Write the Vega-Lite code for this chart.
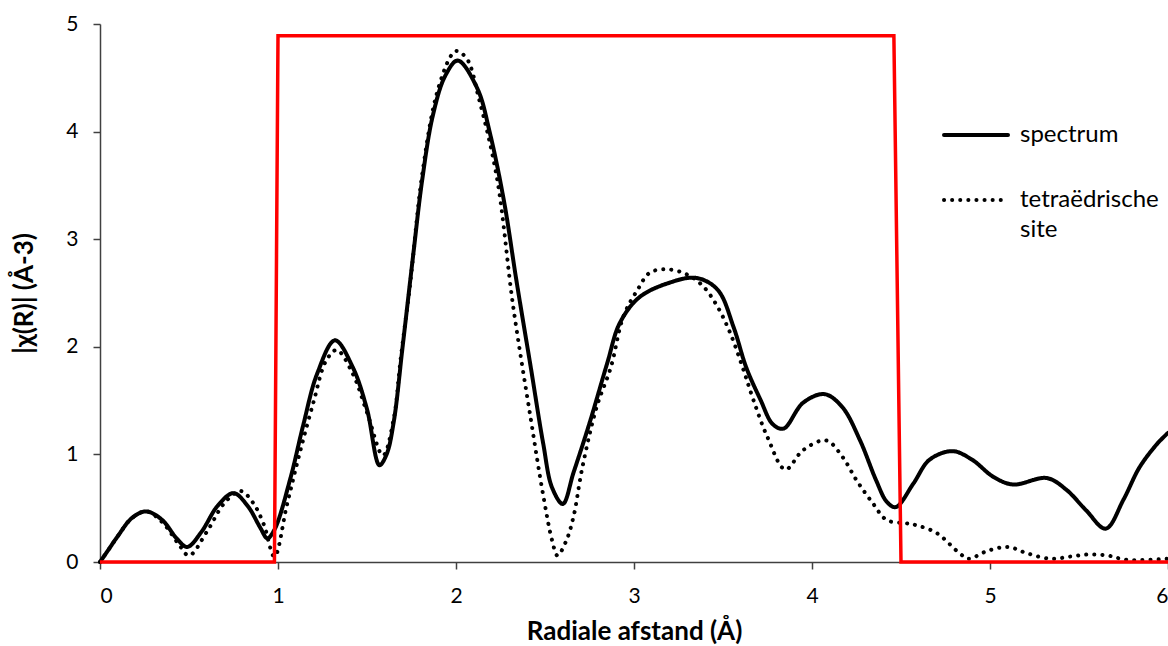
{
  "$schema": "https://vega.github.io/schema/vega-lite/v6.json",
  "width": 1068,
  "height": 538,
  "autosize": {"type": "none"},
  "padding": {"left": 100, "top": 24, "right": 0, "bottom": 84},
  "background": "white",
  "config": {
    "view": {"stroke": null},
    "font": "Lato",
    "axis": {
      "grid": false,
      "domainColor": "#404040",
      "tickColor": "#404040",
      "domainWidth": 1.5,
      "tickWidth": 1.5,
      "tickSize": 7,
      "labelFont": "Lato",
      "labelFontSize": 21,
      "labelColor": "#000000",
      "titleFont": "Lato",
      "titleFontSize": 26,
      "titleFontWeight": "bold",
      "titleColor": "#000000",
      "format": "d"
    }
  },
  "datasets": {
    "window": [
      {"r": 0, "v": 0}, {"r": 0.98, "v": 0}, {"r": 1.0, "v": 4.89}, {"r": 4.46, "v": 4.89}, {"r": 4.5, "v": 0}, {"r": 6, "v": 0}
    ],
    "curves": [
      {"r": 0, "v": 0, "s": "spectrum"}, {"r": 0.05, "v": 0.12, "s": "spectrum"}, {"r": 0.1, "v": 0.24, "s": "spectrum"}, {"r": 0.18, "v": 0.41, "s": "spectrum"}, {"r": 0.26, "v": 0.47, "s": "spectrum"}, {"r": 0.35, "v": 0.39, "s": "spectrum"}, {"r": 0.43, "v": 0.22, "s": "spectrum"}, {"r": 0.49, "v": 0.14, "s": "spectrum"}, {"r": 0.57, "v": 0.28, "s": "spectrum"}, {"r": 0.66, "v": 0.52, "s": "spectrum"}, {"r": 0.75, "v": 0.64, "s": "spectrum"}, {"r": 0.83, "v": 0.52, "s": "spectrum"}, {"r": 0.9, "v": 0.32, "s": "spectrum"}, {"r": 0.94, "v": 0.22, "s": "spectrum"}, {"r": 0.98, "v": 0.3, "s": "spectrum"}, {"r": 1.07, "v": 0.78, "s": "spectrum"}, {"r": 1.14, "v": 1.26, "s": "spectrum"}, {"r": 1.22, "v": 1.75, "s": "spectrum"}, {"r": 1.32, "v": 2.06, "s": "spectrum"}, {"r": 1.42, "v": 1.81, "s": "spectrum"}, {"r": 1.5, "v": 1.42, "s": "spectrum"}, {"r": 1.57, "v": 0.9, "s": "spectrum"}, {"r": 1.61, "v": 1.0, "s": "spectrum"}, {"r": 1.65, "v": 1.3, "s": "spectrum"}, {"r": 1.7, "v": 2.0, "s": "spectrum"}, {"r": 1.76, "v": 2.86, "s": "spectrum"}, {"r": 1.81, "v": 3.55, "s": "spectrum"}, {"r": 1.87, "v": 4.15, "s": "spectrum"}, {"r": 1.94, "v": 4.52, "s": "spectrum"}, {"r": 2.01, "v": 4.66, "s": "spectrum"}, {"r": 2.12, "v": 4.4, "s": "spectrum"}, {"r": 2.19, "v": 3.99, "s": "spectrum"}, {"r": 2.27, "v": 3.35, "s": "spectrum"}, {"r": 2.34, "v": 2.61, "s": "spectrum"}, {"r": 2.42, "v": 1.81, "s": "spectrum"}, {"r": 2.49, "v": 1.1, "s": "spectrum"}, {"r": 2.54, "v": 0.69, "s": "spectrum"}, {"r": 2.6, "v": 0.54, "s": "spectrum"}, {"r": 2.66, "v": 0.83, "s": "spectrum"}, {"r": 2.75, "v": 1.29, "s": "spectrum"}, {"r": 2.85, "v": 1.85, "s": "spectrum"}, {"r": 2.92, "v": 2.22, "s": "spectrum"}, {"r": 3.03, "v": 2.46, "s": "spectrum"}, {"r": 3.19, "v": 2.59, "s": "spectrum"}, {"r": 3.35, "v": 2.64, "s": "spectrum"}, {"r": 3.47, "v": 2.53, "s": "spectrum"}, {"r": 3.56, "v": 2.18, "s": "spectrum"}, {"r": 3.63, "v": 1.81, "s": "spectrum"}, {"r": 3.71, "v": 1.51, "s": "spectrum"}, {"r": 3.78, "v": 1.28, "s": "spectrum"}, {"r": 3.84, "v": 1.24, "s": "spectrum"}, {"r": 3.95, "v": 1.48, "s": "spectrum"}, {"r": 4.07, "v": 1.56, "s": "spectrum"}, {"r": 4.17, "v": 1.44, "s": "spectrum"}, {"r": 4.27, "v": 1.13, "s": "spectrum"}, {"r": 4.36, "v": 0.76, "s": "spectrum"}, {"r": 4.42, "v": 0.56, "s": "spectrum"}, {"r": 4.47, "v": 0.51, "s": "spectrum"}, {"r": 4.57, "v": 0.73, "s": "spectrum"}, {"r": 4.66, "v": 0.95, "s": "spectrum"}, {"r": 4.79, "v": 1.03, "s": "spectrum"}, {"r": 4.9, "v": 0.95, "s": "spectrum"}, {"r": 5.02, "v": 0.79, "s": "spectrum"}, {"r": 5.13, "v": 0.72, "s": "spectrum"}, {"r": 5.32, "v": 0.78, "s": "spectrum"}, {"r": 5.43, "v": 0.67, "s": "spectrum"}, {"r": 5.54, "v": 0.48, "s": "spectrum"}, {"r": 5.65, "v": 0.31, "s": "spectrum"}, {"r": 5.75, "v": 0.58, "s": "spectrum"}, {"r": 5.84, "v": 0.88, "s": "spectrum"}, {"r": 5.94, "v": 1.1, "s": "spectrum"}, {"r": 6.0, "v": 1.2, "s": "spectrum"},
      {"r": 0, "v": 0, "s": "tetraëdrische site"}, {"r": 0.05, "v": 0.12, "s": "tetraëdrische site"}, {"r": 0.1, "v": 0.24, "s": "tetraëdrische site"}, {"r": 0.18, "v": 0.41, "s": "tetraëdrische site"}, {"r": 0.26, "v": 0.47, "s": "tetraëdrische site"}, {"r": 0.35, "v": 0.37, "s": "tetraëdrische site"}, {"r": 0.44, "v": 0.17, "s": "tetraëdrische site"}, {"r": 0.5, "v": 0.06, "s": "tetraëdrische site"}, {"r": 0.6, "v": 0.28, "s": "tetraëdrische site"}, {"r": 0.7, "v": 0.55, "s": "tetraëdrische site"}, {"r": 0.79, "v": 0.66, "s": "tetraëdrische site"}, {"r": 0.86, "v": 0.55, "s": "tetraëdrische site"}, {"r": 0.92, "v": 0.35, "s": "tetraëdrische site"}, {"r": 0.98, "v": 0.05, "s": "tetraëdrische site"}, {"r": 1.05, "v": 0.53, "s": "tetraëdrische site"}, {"r": 1.12, "v": 1.0, "s": "tetraëdrische site"}, {"r": 1.2, "v": 1.49, "s": "tetraëdrische site"}, {"r": 1.27, "v": 1.87, "s": "tetraëdrische site"}, {"r": 1.33, "v": 1.97, "s": "tetraëdrische site"}, {"r": 1.42, "v": 1.75, "s": "tetraëdrische site"}, {"r": 1.5, "v": 1.39, "s": "tetraëdrische site"}, {"r": 1.59, "v": 0.99, "s": "tetraëdrische site"}, {"r": 1.65, "v": 1.33, "s": "tetraëdrische site"}, {"r": 1.69, "v": 1.9, "s": "tetraëdrische site"}, {"r": 1.74, "v": 2.55, "s": "tetraëdrische site"}, {"r": 1.81, "v": 3.6, "s": "tetraëdrische site"}, {"r": 1.89, "v": 4.34, "s": "tetraëdrische site"}, {"r": 1.97, "v": 4.7, "s": "tetraëdrische site"}, {"r": 2.0, "v": 4.75, "s": "tetraëdrische site"}, {"r": 2.06, "v": 4.68, "s": "tetraëdrische site"}, {"r": 2.13, "v": 4.3, "s": "tetraëdrische site"}, {"r": 2.23, "v": 3.57, "s": "tetraëdrische site"}, {"r": 2.32, "v": 2.39, "s": "tetraëdrische site"}, {"r": 2.42, "v": 1.33, "s": "tetraëdrische site"}, {"r": 2.49, "v": 0.62, "s": "tetraëdrische site"}, {"r": 2.54, "v": 0.2, "s": "tetraëdrische site"}, {"r": 2.57, "v": 0.06, "s": "tetraëdrische site"}, {"r": 2.62, "v": 0.2, "s": "tetraëdrische site"}, {"r": 2.66, "v": 0.42, "s": "tetraëdrische site"}, {"r": 2.71, "v": 0.88, "s": "tetraëdrische site"}, {"r": 2.79, "v": 1.44, "s": "tetraëdrische site"}, {"r": 2.87, "v": 1.81, "s": "tetraëdrische site"}, {"r": 2.94, "v": 2.28, "s": "tetraëdrische site"}, {"r": 3.02, "v": 2.53, "s": "tetraëdrische site"}, {"r": 3.09, "v": 2.69, "s": "tetraëdrische site"}, {"r": 3.19, "v": 2.72, "s": "tetraëdrische site"}, {"r": 3.3, "v": 2.67, "s": "tetraëdrische site"}, {"r": 3.39, "v": 2.56, "s": "tetraëdrische site"}, {"r": 3.47, "v": 2.37, "s": "tetraëdrische site"}, {"r": 3.54, "v": 2.13, "s": "tetraëdrische site"}, {"r": 3.61, "v": 1.81, "s": "tetraëdrische site"}, {"r": 3.67, "v": 1.51, "s": "tetraëdrische site"}, {"r": 3.75, "v": 1.16, "s": "tetraëdrische site"}, {"r": 3.85, "v": 0.86, "s": "tetraëdrische site"}, {"r": 3.95, "v": 1.04, "s": "tetraëdrische site"}, {"r": 4.08, "v": 1.13, "s": "tetraëdrische site"}, {"r": 4.17, "v": 0.98, "s": "tetraëdrische site"}, {"r": 4.25, "v": 0.76, "s": "tetraëdrische site"}, {"r": 4.34, "v": 0.55, "s": "tetraëdrische site"}, {"r": 4.42, "v": 0.39, "s": "tetraëdrische site"}, {"r": 4.53, "v": 0.36, "s": "tetraëdrische site"}, {"r": 4.59, "v": 0.34, "s": "tetraëdrische site"}, {"r": 4.7, "v": 0.27, "s": "tetraëdrische site"}, {"r": 4.83, "v": 0.08, "s": "tetraëdrische site"}, {"r": 4.88, "v": 0.03, "s": "tetraëdrische site"}, {"r": 4.98, "v": 0.1, "s": "tetraëdrische site"}, {"r": 5.1, "v": 0.14, "s": "tetraëdrische site"}, {"r": 5.21, "v": 0.08, "s": "tetraëdrische site"}, {"r": 5.34, "v": 0.03, "s": "tetraëdrische site"}, {"r": 5.45, "v": 0.05, "s": "tetraëdrische site"}, {"r": 5.55, "v": 0.07, "s": "tetraëdrische site"}, {"r": 5.66, "v": 0.06, "s": "tetraëdrische site"}, {"r": 5.77, "v": 0.02, "s": "tetraëdrische site"}, {"r": 6.0, "v": 0.03, "s": "tetraëdrische site"}
    ]
  },
  "layer": [
    {
      "data": {"name": "curves"},
      "mark": {"type": "line", "interpolate": "catmull-rom", "strokeWidth": 4, "strokeCap": "round", "color": "#000000"},
      "encoding": {
        "x": {
          "field": "r", "type": "quantitative",
          "scale": {"domain": [0, 6], "nice": false},
          "axis": {"values": [0, 1, 2, 3, 4, 5, 6], "title": "Radiale afstand (Å)", "labelPadding": 16, "titlePadding": 12}
        },
        "y": {
          "field": "v", "type": "quantitative",
          "scale": {"domain": [0, 5], "nice": false},
          "axis": {"values": [0, 1, 2, 3, 4, 5], "title": "|χ(R)| (Å-3)", "labelPadding": 15, "titlePadding": 28}
        },
        "strokeDash": {
          "field": "s", "type": "nominal",
          "scale": {"domain": ["spectrum", "tetraëdrische site"], "range": [[1, 0], [0.1, 8]]},
          "legend": {
            "title": null,
            "orient": "none",
            "legendX": 842,
            "legendY": 77,
            "padding": 0,
            "symbolType": "stroke",
            "symbolSize": 4096,
            "symbolStrokeWidth": 4,
            "symbolStrokeColor": "#000000",
            "labelFont": "Lato",
            "labelFontSize": 24,
            "labelColor": "#000000",
            "labelOffset": 10,
            "labelLimit": 300,
            "rowPadding": 19,
            "labelExpr": "datum.label == 'tetraëdrische site' ? ['tetraëdrische', 'site'] : datum.label",
            "encode": {
              "symbols": {"update": {"strokeCap": {"value": "round"}}},
              "labels": {"update": {"lineHeight": {"value": 30}}}
            }
          }
        }
      }
    },
    {
      "data": {"name": "window"},
      "mark": {"type": "line", "color": "#ff0000", "strokeWidth": 3.5},
      "encoding": {
        "x": {"field": "r", "type": "quantitative"},
        "y": {"field": "v", "type": "quantitative"}
      }
    }
  ]
}
